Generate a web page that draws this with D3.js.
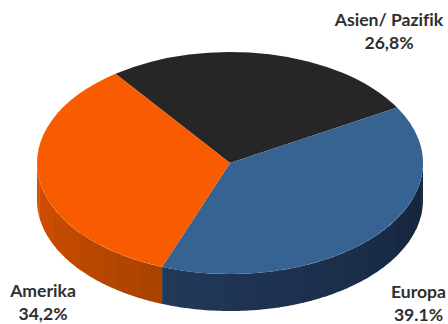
<!DOCTYPE html>
<html>
<head>
<meta charset="utf-8">
<script src="https://cdn.jsdelivr.net/npm/d3@7/dist/d3.min.js"></script>
<style>
  html, body { margin: 0; padding: 0; background: #fff; }
  svg { display: block; }
  text { font-family: Lato, "Open Sans", sans-serif; font-weight: 700; font-size: 17.6px; fill: #2f2f2f; font-variant-ligatures: none; }
</style>
</head>
<body>
<svg id="chart" width="448" height="324"></svg>
<script>
// Regional shares, in drawing order clockwise from the upper left
const regions = ["Asien/ Pazifik", "Europa", "Amerika"];
const shares = [26.8, 39.1, 34.2];
const shareLabels = ["26,8%", "39.1%", "34,2%"];
const topColors = ["#262626", "#376392", "#f95c00"];
const wallFrom = ["#262626", "#14243b", "#d65000"];
const wallTo = ["#262626", "#22395a", "#a84200"];

// Label anchors: centre x and first-line baseline
const labelX = [389, 418.5, 43];
const labelY = [26, 298, 297];

const width = 448, height = 324;
const cx = 230, cy = 163, rx = 193, ry = 111, depth = 37;
const squash = ry / rx;
const startAngle = -36.4 * Math.PI / 180;

const svg = d3.select("#chart");

const pie = d3.pie().sort(null).startAngle(startAngle).endAngle(startAngle + 2 * Math.PI);
const slices = pie(shares);

// Projects a pie angle (clockwise from north) on to the tilted disc
const ex = a => cx + rx * Math.sin(a);
const ey = a => cy - ry * Math.cos(a);
const line = d3.line();

// Side wall: only the front half of the rim (90deg to 270deg) is visible
const wall = svg.append("g");
const bandWidth = 7.5 * Math.PI / 180;
slices.forEach((s, i) => {
  const a0 = Math.max(s.startAngle, Math.PI / 2);
  const a1 = Math.min(s.endAngle, 3 * Math.PI / 2);
  if (a1 <= a0) return;
  // Each slice's wall is shaded in narrow bands around the rim, from its
  // right-hand end towards its left-hand end
  const shade = d3.interpolateRgb(wallFrom[i], wallTo[i]);
  d3.range(a0, a1, bandWidth).forEach(b => {
    const end = Math.min(b + bandWidth + 0.01, a1);
    const rim = d3.range(0, 9).map(k => b + (end - b) * k / 8);
    const pts = rim.map(a => [ex(a), ey(a)])
      .concat(rim.slice().reverse().map(a => [ex(a), ey(a) + depth]));
    const u = i === 2
      ? (a1 - (b + end) / 2) / (a1 - a0)
      : ((b + end) / 2 - a0) / (a1 - a0);
    wall.append("path")
      .attr("d", line(pts) + "Z")
      .attr("fill", shade(u));
  });
});

// Top face: an ordinary pie, flattened into an ellipse
const arc = d3.arc().innerRadius(0).outerRadius(rx);
svg.append("g")
  .attr("transform", `translate(${cx},${cy}) scale(1,${squash})`)
  .selectAll("path")
  .data(slices)
  .join("path")
  .attr("d", arc)
  .attr("fill", (d, i) => topColors[i]);

// Two-line labels: region name above its share
const labels = svg.append("g").attr("text-anchor", "middle");
regions.forEach((name, i) => {
  const t = labels.append("text").attr("x", labelX[i]).attr("y", labelY[i]);
  t.append("tspan").attr("x", labelX[i]).text(name);
  t.append("tspan").attr("x", labelX[i]).attr("dy", 22.5).text(shareLabels[i]);
});
</script>
</body>
</html>
